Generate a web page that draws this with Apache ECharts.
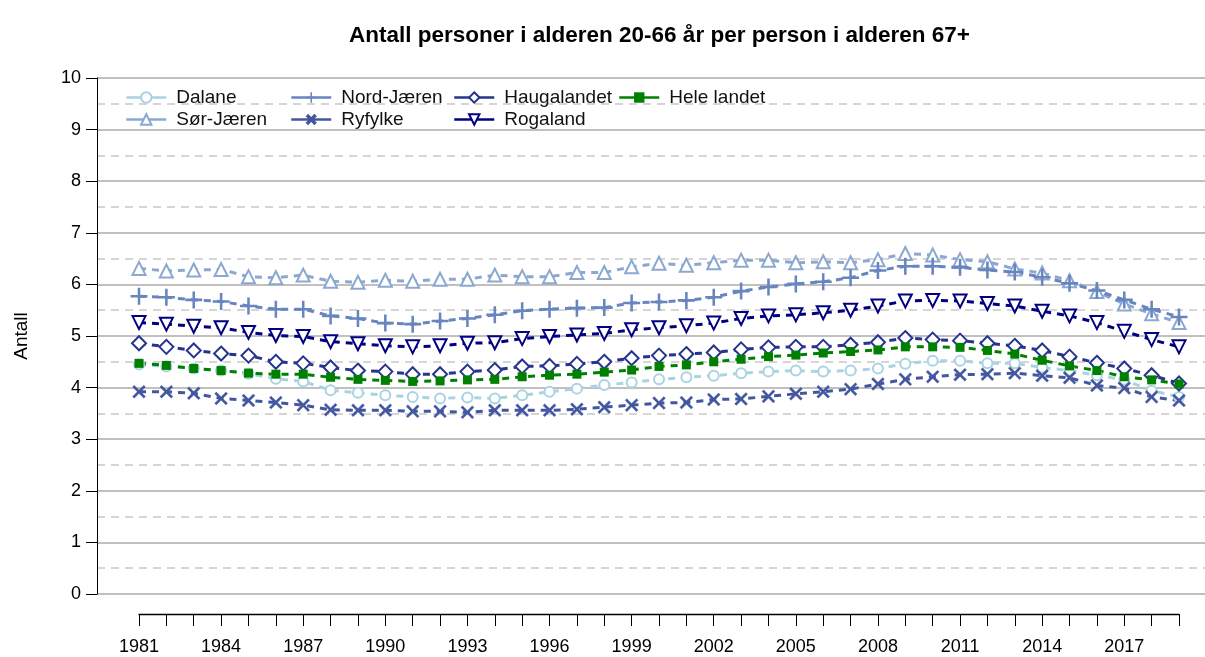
<!DOCTYPE html>
<html>
<head>
<meta charset="utf-8">
<script src="https://cdn.jsdelivr.net/npm/echarts@6/dist/echarts.min.js"></script>
<style>
  html, body { margin: 0; padding: 0; background: #fff; }
  #chart { width: 1205px; height: 657px; }
</style>
</head>
<body>
<div id="chart"></div>
<script>
// år 1981-2019
var years = [];
for (var y = 1981; y <= 2019; y++) years.push(y);

var dalane = [4.45, 4.41, 4.37, 4.33, 4.27, 4.17, 4.12, 3.95, 3.90, 3.85, 3.82, 3.79, 3.81,
  3.79, 3.85, 3.92, 3.98, 4.05, 4.10, 4.16, 4.20, 4.23, 4.28, 4.31, 4.33,
  4.31, 4.33, 4.37, 4.46, 4.52, 4.52, 4.47, 4.47, 4.39, 4.33, 4.24, 4.15, 3.94, 3.82];
var sorJaeren = [6.31, 6.26, 6.28, 6.29, 6.15, 6.13, 6.18, 6.06, 6.04, 6.08, 6.06, 6.10, 6.10,
  6.18, 6.15, 6.15, 6.23, 6.23, 6.34, 6.41, 6.37, 6.42, 6.47, 6.47, 6.42,
  6.44, 6.42, 6.48, 6.60, 6.57, 6.48, 6.44, 6.30, 6.22, 6.07, 5.86, 5.62, 5.43, 5.26];
var nordJaeren = [5.77, 5.75, 5.70, 5.67, 5.58, 5.52, 5.52, 5.39, 5.34, 5.25, 5.23, 5.29, 5.34,
  5.41, 5.49, 5.52, 5.54, 5.55, 5.64, 5.66, 5.69, 5.75, 5.87, 5.95, 6.01,
  6.05, 6.13, 6.27, 6.35, 6.35, 6.33, 6.28, 6.24, 6.14, 6.02, 5.88, 5.70, 5.52, 5.37];
var ryfylke = [3.92, 3.92, 3.89, 3.79, 3.75, 3.71, 3.66, 3.57, 3.56, 3.56, 3.54, 3.54, 3.52,
  3.56, 3.56, 3.56, 3.58, 3.62, 3.66, 3.70, 3.71, 3.77, 3.78, 3.83, 3.88,
  3.92, 3.97, 4.07, 4.16, 4.21, 4.25, 4.26, 4.28, 4.23, 4.19, 4.04, 3.99, 3.82, 3.75];
var haugalandet = [4.86, 4.79, 4.72, 4.66, 4.62, 4.50, 4.47, 4.39, 4.33, 4.31, 4.26, 4.26, 4.31,
  4.34, 4.41, 4.42, 4.46, 4.50, 4.57, 4.62, 4.65, 4.68, 4.74, 4.78, 4.79,
  4.79, 4.83, 4.88, 4.96, 4.93, 4.91, 4.86, 4.81, 4.72, 4.60, 4.48, 4.37, 4.24, 4.08];
var rogaland = [5.26, 5.23, 5.19, 5.16, 5.07, 5.01, 4.99, 4.89, 4.85, 4.81, 4.79, 4.81, 4.86,
  4.87, 4.95, 4.99, 5.02, 5.05, 5.12, 5.16, 5.20, 5.25, 5.34, 5.39, 5.41,
  5.45, 5.50, 5.58, 5.68, 5.69, 5.68, 5.63, 5.58, 5.48, 5.39, 5.26, 5.09, 4.93, 4.79];
var heleLandet = [4.47, 4.43, 4.37, 4.33, 4.28, 4.26, 4.26, 4.20, 4.16, 4.14, 4.12, 4.13, 4.15,
  4.16, 4.21, 4.24, 4.26, 4.30, 4.34, 4.41, 4.44, 4.50, 4.55, 4.60, 4.63,
  4.67, 4.70, 4.73, 4.79, 4.79, 4.78, 4.72, 4.65, 4.53, 4.42, 4.33, 4.21, 4.15, 4.07];

var yTicks = [0, 1, 2, 3, 4, 5, 6, 7, 8, 9, 10];

// tynt pluss-tegn (brukes også rotert som kryss)
var PLUS = 'path://M4.25,0h1.5v4.25h4.25v1.5h-4.25v4.25h-1.5v-4.25h-4.25v-1.5h4.25z';
var font = 'Liberation Sans, Arial, sans-serif';

// navn, data, farge, symbol, størrelse, rotasjon, kantbredde
var serier = [
  ['Dalane', dalane, '#a9d3e3', 'emptyCircle', 10, 0, 2.5],
  ['Sør-Jæren', sorJaeren, '#8aa8d0', 'emptyTriangle', 13, 0, 2.5],
  ['Nord-Jæren', nordJaeren, '#6885c0', PLUS, 17, 0, 0],
  ['Ryfylke', ryfylke, '#4357a0', PLUS, 16, 45, 0.3],
  ['Haugalandet', haugalandet, '#27348e', 'emptyDiamond', 14, 0, 2.5],
  ['Rogaland', rogaland, '#000080', 'emptyTriangle', 13, 180, 2.5],
  ['Hele landet', heleLandet, '#008000', 'rect', 9, 0, 0]
];

// legende-plassering (kolonnevis som i originalen)
var legendPos = {
  'Dalane': [120, 83], 'Sør-Jæren': [120, 105],
  'Nord-Jæren': [285, 83], 'Ryfylke': [285, 105],
  'Haugalandet': [448, 83], 'Rogaland': [448, 105],
  'Hele landet': [613, 83]
};

var series = serier.map(function (s) {
  return {
    name: s[0],
    type: 'line',
    xAxisIndex: 0,
    yAxisIndex: 0,
    data: years.map(function (yr, i) { return [yr, s[1][i]]; }),
    symbol: s[3],
    symbolSize: s[4],
    symbolRotate: s[5],
    showAllSymbol: true,
    lineStyle: { color: s[2], width: 3, type: [7, 6] },
    itemStyle: { color: s[2], borderColor: s[2], borderWidth: s[6] },
    emphasis: { disabled: true },
    animation: false
  };
});

var legends = serier.map(function (s) {
  return {
    data: [s[0]],
    left: legendPos[s[0]][0],
    top: legendPos[s[0]][1],
    itemWidth: 40,
    itemHeight: 13,
    lineStyle: { type: 'solid', width: 2.5 },
    textStyle: { fontFamily: font, fontSize: 19, color: '#111', padding: [0, 0, 0, 5] }
  };
});

var option = {
  backgroundColor: '#fff',
  title: {
    text: 'Antall personer i alderen 20-66 år per person i alderen 67+',
    left: 344,
    top: 19,
    textStyle: { fontFamily: font, fontSize: 22.5, fontWeight: 'bold', color: '#000' }
  },
  legend: legends,
  grid: [
    { left: 97, right: 0, top: 78, bottom: 63 },
    { left: 139, right: 26, top: 78, bottom: 63 }
  ],
  xAxis: [
    {
      type: 'value', gridIndex: 0,
      min: 1979.465, max: 2019.95,
      show: false
    },
    {
      type: 'value', gridIndex: 1,
      min: 1981, max: 2019, interval: 1,
      offset: 20,
      axisLine: { show: true, onZero: false, lineStyle: { color: '#000', width: 1.3 } },
      axisTick: { show: true, length: 12, lineStyle: { color: '#000' } },
      axisLabel: {
        margin: 24,
        fontFamily: font, fontSize: 18, color: '#000',
        showMinLabel: true, showMaxLabel: true,
        formatter: function (v) { return (v - 1981) % 3 === 0 ? String(v) : ''; }
      },
      splitLine: { show: false }
    }
  ],
  yAxis: [
    {
      type: 'value', gridIndex: 0,
      min: yTicks[0], max: yTicks[yTicks.length - 1], interval: 1,
      name: 'Antall',
      nameLocation: 'middle',
      nameGap: 66,
      nameTextStyle: { fontFamily: font, fontSize: 19, color: '#000' },
      axisLine: { show: true, lineStyle: { color: '#000', width: 1 } },
      axisTick: { show: true, length: 11, lineStyle: { color: '#000' } },
      axisLabel: { margin: 16, fontFamily: font, fontSize: 18, color: '#000' },
      splitLine: { show: true, lineStyle: { color: '#c0c0c0', width: 2 } },
      minorTick: { show: false, splitNumber: 2 },
      minorSplitLine: { show: true, lineStyle: { color: '#c8c8c8', width: 1.5, type: [8, 6] } }
    },
    {
      type: 'value', gridIndex: 1, min: 0, max: 1, show: false
    }
  ],
  series: series
};

var myChart = echarts.init(document.getElementById('chart'));
myChart.setOption(option);
</script>
</body>
</html>
